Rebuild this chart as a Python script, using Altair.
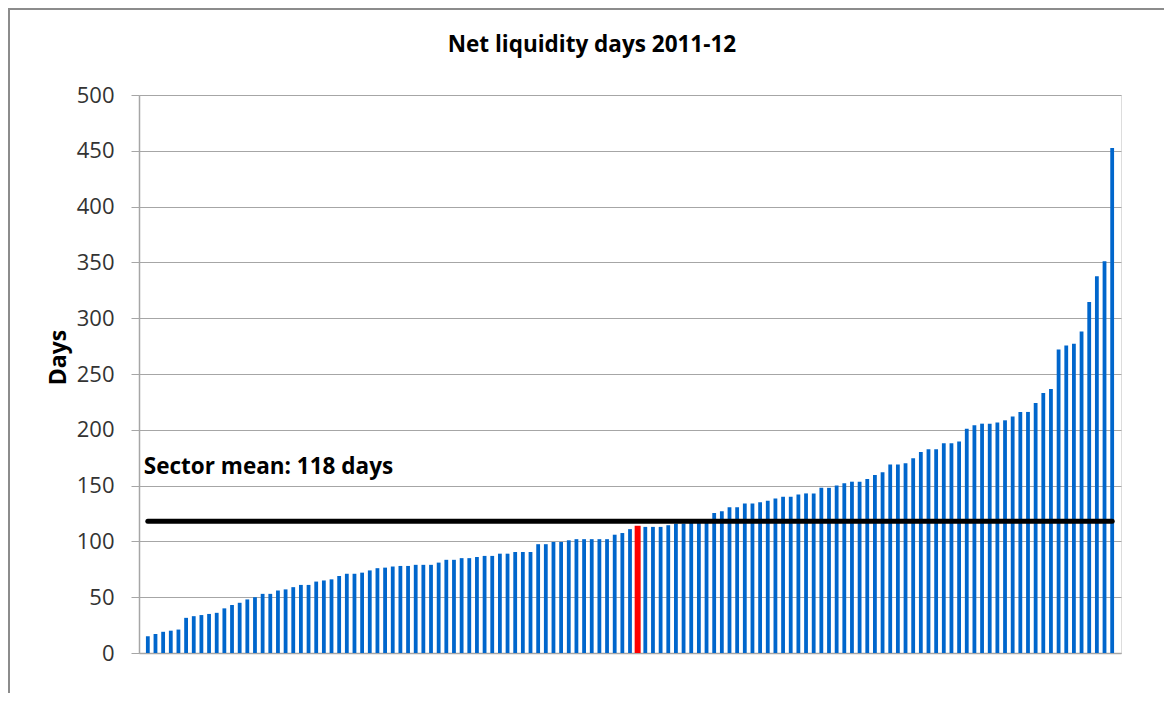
import altair as alt
import pandas as pd

# ---- data ----
days = [
    15, 17, 19, 20, 21, 31.5, 33, 34, 35, 36,
    40, 43, 45, 48, 50, 53, 53, 56, 57, 59,
    61, 61, 64, 65, 66, 69, 71, 71, 72, 74,
    76, 76.5, 77.5, 78, 78, 79, 79, 79, 81, 83.5,
    83.5, 85, 85, 86, 87, 87, 89, 89, 90.5, 90.5,
    90.5, 97.5, 97.5, 99.5, 99.5, 101, 102, 102, 102, 102,
    102, 106, 107.5, 111, 114, 113, 113, 113, 114.5, 116,
    116, 117, 117.5, 118, 125.5, 127, 130.5, 130.5, 134, 134,
    135, 136.5, 138.5, 140, 140, 142, 143, 143, 148, 148,
    150, 152, 153.5, 153.5, 156, 159.5, 162, 169, 169, 170,
    174.5, 180, 182.5, 182.5, 188, 188, 189.5, 201, 204, 205.5,
    205.5, 206.5, 208.5, 212, 216, 216, 224, 233, 236.5, 272,
    275.5, 277, 288, 314.5, 337.5, 351, 452.5,
]
highlight_rank = 65
sector_mean = 118
annotation_text = "Sector mean: 118 days"
annotation_level = 160
chart_title = "Net liquidity days 2011-12"
y_title = "Days"
y_ticks = [0, 50, 100, 150, 200, 250, 300, 350, 400, 450, 500]

FONT = "Open Sans"
BLUE = "#0066cc"
RED = "#ff0000"
GRID = "#a6a6a6"
FRAME = "#8c8c8c"

ranks = list(range(1, len(days) + 1))
df = pd.DataFrame({"rank": ranks, "days": days})
df_blue = df[df["rank"] != highlight_rank]
df_red = df[df["rank"] == highlight_rank]
df_mean = pd.DataFrame({"start": [ranks[0]], "end": [ranks[-1]], "days": [sector_mean]})
df_note = pd.DataFrame({"rank": [ranks[0]], "days": [annotation_level], "text": [annotation_text]})
df_title = pd.DataFrame({"text": [chart_title]})

x_scale = alt.Scale(domain=[0.5, len(days) + 0.5], nice=False, zero=False)
y_scale = alt.Scale(domain=[0, 500], nice=False)

x_enc = alt.X(
    "rank:Q", scale=x_scale,
    axis=alt.Axis(labels=False, ticks=False, grid=False, title=None,
                  domainColor=GRID, domainWidth=1.5),
)
y_enc = alt.Y(
    "days:Q", scale=y_scale,
    axis=alt.Axis(
        values=y_ticks, title=y_title,
        titleFont=FONT, titleFontSize=23, titleFontWeight="bold", titleColor="#000000",
        titleAngle=270, titleBaseline="alphabetic", titleAlign="center",
        titleX=-74, titleY=262,
        labelFont=FONT, labelFontSize=22, labelColor="#333333", labelPadding=17,
        tickSize=8, tickColor=GRID, domainColor=GRID, domainWidth=1.5,
        grid=True, gridColor=GRID, gridWidth=1.2,
    ),
)

bars = alt.Chart(df_blue).mark_bar(size=3.8, color=BLUE).encode(x=x_enc, y=y_enc)
red = alt.Chart(df_red).mark_bar(size=6, color=RED).encode(x="rank:Q", y="days:Q")
mean_line = alt.Chart(df_mean).mark_rule(color="black", strokeWidth=5, strokeCap="round").encode(
    x="start:Q", x2="end:Q", y="days:Q"
)
note = alt.Chart(df_note).mark_text(
    align="left", baseline="alphabetic", font=FONT, fontSize=22.5, fontWeight="bold",
    color="black", dx=-4,
).encode(x="rank:Q", y="days:Q", text="text:N")

# chart title, centred on the outer frame
title = alt.Chart(df_title).mark_text(
    align="center", baseline="alphabetic", font=FONT, fontSize=22.5, fontWeight="bold", color="black"
).encode(x=alt.value(453), y=alt.value(-43), text="text:N")

# outer chart-area frame (top and left edges)
frame_top = alt.Chart(df_title).mark_rule(stroke=FRAME, strokeWidth=2).encode(
    x=alt.value(-131), x2=alt.value(1100), y=alt.value(-86)
)
frame_left = alt.Chart(df_title).mark_rule(stroke=FRAME, strokeWidth=2).encode(
    x=alt.value(-130), y=alt.value(-87), y2=alt.value(700)
)

chart = alt.layer(frame_top, frame_left, bars, red, mean_line, note, title).properties(
    width=982,
    height=558,
    padding={"left": 131, "top": 87, "right": 43, "bottom": 40},
    autosize=alt.AutoSizeParams(type="none"),
).configure_view(stroke=None).configure(background="white")

chart.save("out.html", embed_options={"renderer": "svg", "actions": False})
